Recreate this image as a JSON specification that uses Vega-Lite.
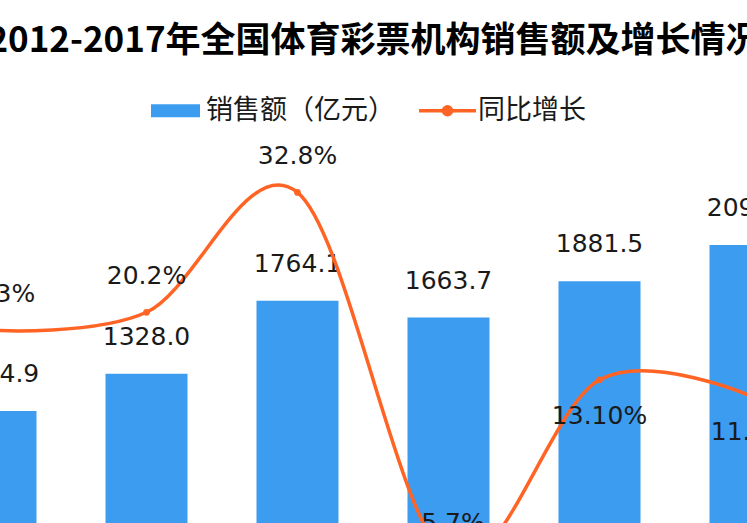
{
  "$schema": "https://vega.github.io/schema/vega-lite/v6.json",
  "width": 906,
  "height": 502,
  "autosize": {"type": "none"},
  "padding": {"left": -80, "top": 94, "right": 0, "bottom": 0},
  "background": "white",
  "config": {"view": {"stroke": null}, "font": "DejaVu Sans"},
  "title": {
    "text": "2012-2017年全国体育彩票机构销售额及增长情况",
    "font": "Noto Sans CJK SC",
    "fontSize": 35,
    "fontWeight": "bold",
    "color": "#000000",
    "anchor": "middle",
    "dx": 1,
    "offset": 35
  },
  "data": {
    "values": [
      {"year": "2012", "sales": 1104.9, "growth": 18.3, "growth_label": "18.3%", "pos": "above"},
      {"year": "2013", "sales": 1328.0, "growth": 20.2, "growth_label": "20.2%", "pos": "above"},
      {"year": "2014", "sales": 1764.1, "growth": 32.8, "growth_label": "32.8%", "pos": "above"},
      {"year": "2015", "sales": 1663.7, "growth": -5.7, "growth_label": "-5.7%", "pos": "above"},
      {"year": "2016", "sales": 1881.5, "growth": 13.1, "growth_label": "13.10%", "pos": "below"},
      {"year": "2017", "sales": 2096.9, "growth": 11.4, "growth_label": "11.4%", "pos": "below"}
    ]
  },
  "encoding": {
    "x": {
      "field": "year",
      "type": "ordinal",
      "scale": {"paddingInner": 0.457, "paddingOuter": 0.2285},
      "axis": null
    }
  },
  "layer": [
    {
      "mark": {"type": "bar", "color": "#3C9CF0"},
      "encoding": {
        "y": {"field": "sales", "type": "quantitative", "scale": {"domain": [0, 3000], "nice": false}, "axis": null},
        "color": {
          "datum": "销售额（亿元）",
          "scale": {"domain": ["销售额（亿元）", "同比增长"], "range": ["#3C9CF0", "#FF6424"]},
          "legend": {
            "title": null,
            "orient": "none",
            "direction": "horizontal",
            "legendX": 242,
            "legendY": 3,
            "padding": 0,
            "symbolSize": 2500,
            "labelOffset": 17,
            "columnPadding": 17,
            "labelFont": "Noto Sans CJK SC",
            "labelFontSize": 27,
            "labelColor": "#1a1a1a",
            "labelLimit": 400,
            "encode": {
              "symbols": {
                "update": {
                  "shape": {"signal": "datum.value == '同比增长' ? 'M-1.14,0H1.14M-0.16,0A0.16,0.16,0,1,1,0.16,0A0.16,0.16,0,1,1,-0.16,0Z' : 'M-0.98,-0.26H0.98V0.26H-0.98Z'"},
                  "fill": {"signal": "datum.value == '同比增长' ? '#FF6424' : '#3C9CF0'"},
                  "stroke": {"signal": "datum.value == '同比增长' ? '#FF6424' : '#3C9CF0'"},
                  "strokeWidth": {"signal": "datum.value == '同比增长' ? 3.5 : 0"},
                  "opacity": {"value": 1}
                }
              }
            }
          }
        }
      }
    },
    {
      "mark": {"type": "text", "font": "DejaVu Sans", "fontSize": 25, "color": "#1a1a1a", "baseline": "middle", "dy": -37},
      "encoding": {
        "y": {"field": "sales", "type": "quantitative", "scale": {"domain": [0, 3000], "nice": false}, "axis": null},
        "text": {"field": "sales", "type": "quantitative", "format": ".1f"}
      }
    },
    {
      "mark": {"type": "line", "interpolate": "cardinal", "strokeWidth": 3.5, "color": "#FF6424"},
      "encoding": {
        "y": {"field": "growth", "type": "quantitative", "scale": {"domain": [-9.63, 43.15], "nice": false, "zero": false}, "axis": null},
        "color": {"datum": "同比增长"}
      }
    },
    {
      "mark": {"type": "point", "filled": true, "size": 45, "opacity": 1, "color": "#FF6424"},
      "encoding": {
        "y": {"field": "growth", "type": "quantitative", "scale": {"domain": [-9.63, 43.15], "nice": false, "zero": false}, "axis": null}
      }
    },
    {
      "transform": [{"filter": "datum.pos == 'above'"}],
      "mark": {"type": "text", "font": "DejaVu Sans", "fontSize": 25, "color": "#1a1a1a", "baseline": "middle", "dy": -36},
      "encoding": {
        "y": {"field": "growth", "type": "quantitative", "scale": {"domain": [-9.63, 43.15], "nice": false, "zero": false}, "axis": null},
        "text": {"field": "growth_label"}
      }
    },
    {
      "transform": [{"filter": "datum.pos == 'below'"}],
      "mark": {"type": "text", "font": "DejaVu Sans", "fontSize": 25, "color": "#1a1a1a", "baseline": "middle", "dy": 36},
      "encoding": {
        "y": {"field": "growth", "type": "quantitative", "scale": {"domain": [-9.63, 43.15], "nice": false, "zero": false}, "axis": null},
        "text": {"field": "growth_label"}
      }
    }
  ],
  "resolve": {"scale": {"y": "independent"}}
}
